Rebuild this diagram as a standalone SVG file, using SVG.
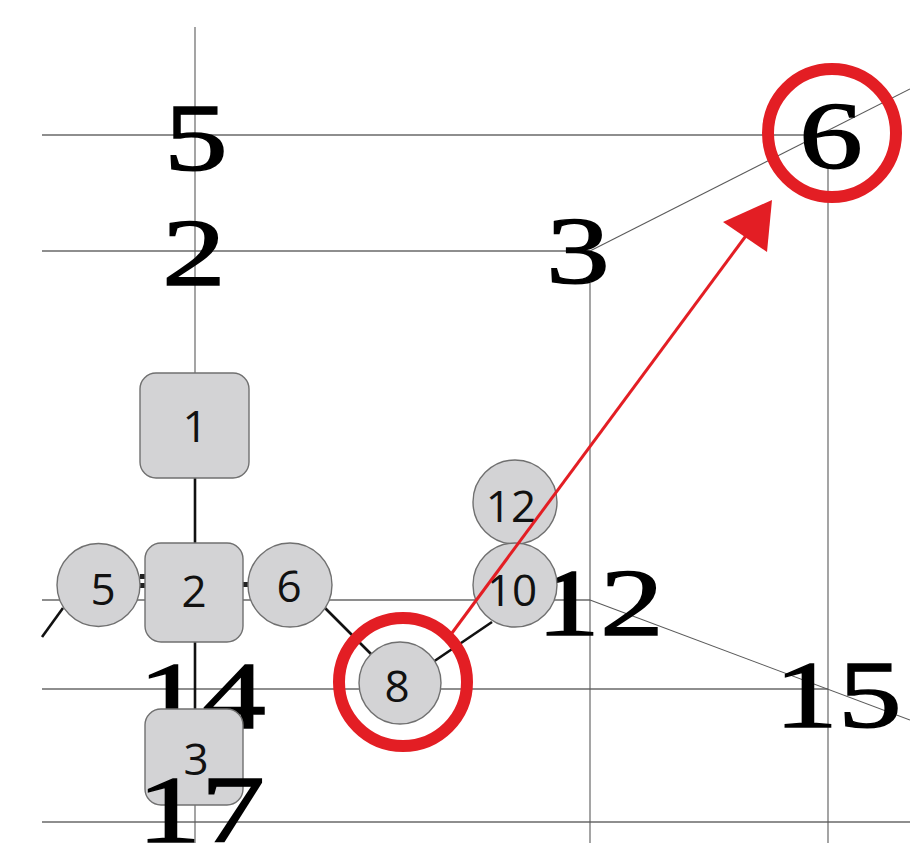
<svg xmlns="http://www.w3.org/2000/svg" width="910" height="843" viewBox="0 0 910 843">
<style>
.grid{stroke:#8e8e8e;stroke-width:1.8;fill:none}
.gridd{stroke:#5a5a5a;stroke-width:1.1;fill:none}
.big{font-family:"Liberation Serif","Times New Roman",serif;font-size:96px;fill:#000;stroke:#000;stroke-width:1.4;text-anchor:middle}
.node{fill:#d3d3d5;stroke:#707070;stroke-width:1.4}
.lbl{font-family:"Open Sans","Noto Sans",sans-serif;font-size:44px;fill:#111;text-anchor:middle}
.edge{stroke:#111;stroke-width:2.6;fill:none}
.ring{fill:none;stroke:#e31e24;stroke-width:12}
</style>
<rect width="910" height="843" fill="#fff"/>
<g id="grid">
<line class="grid" x1="42" y1="135" x2="828" y2="135"/>
<line class="grid" x1="42" y1="251" x2="590" y2="251"/>
<line class="grid" x1="42" y1="600" x2="590" y2="600"/>
<line class="grid" x1="42" y1="689" x2="828" y2="689"/>
<line class="grid" x1="42" y1="822" x2="910" y2="822"/>
<line class="gridd" x1="195" y1="27" x2="195" y2="843"/>
<line class="gridd" x1="590" y1="283" x2="590" y2="843"/>
<line class="gridd" x1="828" y1="165" x2="828" y2="843"/>
<line class="gridd" x1="590" y1="251" x2="910" y2="89"/>
<line class="gridd" x1="590" y1="600" x2="910" y2="720"/>
</g>
<g id="grid-labels">
<text class="big" transform="translate(196,170) scale(1.33,1)">5</text>
<text class="big" transform="translate(194,285) scale(1.33,1)">2</text>
<text class="big" transform="translate(578,283) scale(1.33,1)">3</text>
<text class="big" transform="translate(831,168) scale(1.33,1)">6</text>
<text class="big" transform="translate(600,635) scale(1.33,1)">12</text>
<text class="big" transform="translate(838,727) scale(1.33,1)">15</text>
<text class="big" transform="translate(202,728) scale(1.33,1)">14</text>
</g>
<g id="connectors">
<line class="edge" x1="195" y1="478" x2="195" y2="543"/>
<line class="edge" x1="195" y1="642" x2="195" y2="709"/>
<line class="edge" x1="324" y1="607" x2="371" y2="654"/>
<line class="edge" x1="433" y1="662" x2="492" y2="622"/>
<line class="edge" x1="63" y1="608" x2="42" y2="637"/>
<rect x="140" y="574" width="5" height="5" fill="#222"/>
<rect x="140" y="583" width="5" height="5" fill="#222"/>
<rect x="243" y="582" width="5" height="5" fill="#222"/>
</g>
<g id="node-1"><rect class="node" x="140" y="373" width="109" height="105" rx="16"/><text class="lbl" x="195" y="442">1</text></g>
<g id="node-2"><rect class="node" x="145" y="543" width="98" height="99" rx="16"/><text class="lbl" x="194" y="607">2</text></g>
<g id="node-5"><circle class="node" cx="98.5" cy="585" r="41.5"/><text class="lbl" x="103" y="605">5</text></g>
<g id="node-6"><circle class="node" cx="290" cy="585" r="42"/><text class="lbl" x="289" y="602">6</text></g>
<g id="node-8"><circle class="node" cx="400" cy="683" r="41"/><text class="lbl" x="397" y="702">8</text></g>
<g id="node-12"><circle class="node" cx="515" cy="502" r="42"/><text class="lbl" x="511" y="522">12</text></g>
<g id="node-10"><circle class="node" cx="515" cy="585" r="42"/><text class="lbl" x="512" y="606">10</text></g>
<g id="node-3"><rect class="node" x="145" y="709" width="98" height="96" rx="16"/><text class="lbl" x="196" y="775">3</text></g>
<g id="label-17"><text class="big" transform="translate(201,842) scale(1.33,1)">17</text></g>
<g id="highlight">
<circle class="ring" cx="403" cy="682" r="64"/>
<circle class="ring" cx="832" cy="133" r="64"/>
<line x1="452" y1="633" x2="748" y2="233" stroke="#e31e24" stroke-width="3"/>
<polygon points="772,200 723,222 767,252" fill="#e31e24"/>
</g>
</svg>
